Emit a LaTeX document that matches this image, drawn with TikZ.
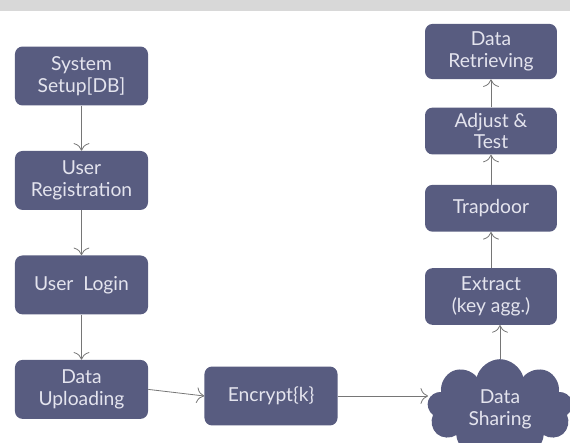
\documentclass[tikz,border=0pt]{standalone}
\usepackage{fontspec}
\setmainfont{Lato}
\usetikzlibrary{positioning,arrows.meta,shapes.symbols}
\definecolor{boxblue}{RGB}{88,92,128}
\definecolor{boxtext}{RGB}{228,228,238}
\definecolor{linegray}{RGB}{118,118,118}
\definecolor{stripgray}{RGB}{216,216,216}

\begin{document}
\begin{tikzpicture}[
    x=0.02646cm, y=-0.02646cm,
    box/.style={rectangle, rounded corners=0.2cm, fill=boxblue, text=boxtext, minimum width=3.52cm, minimum height=1.56cm, align=center, font=\fontsize{14.5}{16.5}\selectfont, inner sep=2pt},
    arrow/.style={-{To[length=2mm]}, linegray, semithick},
]
\useasboundingbox (0,0) rectangle (570,443);
\fill[stripgray] (0,0) rectangle (570,11);

% Left column, top to bottom
\node[box] (setup) at (81.5,76) {System\\Setup[DB]};
\node[box, below=1.19cm of setup] (register) {User\\Registration};
\node[box, below=1.19cm of register] (login) {User~~Login};
\node[box, below=1.19cm of login] (upload) {Data\\Uploading};

% Bottom row
\node[box] (encrypt) at (271,396) {Encrypt\{k\}};
\node[cloud, cloud puffs=9, aspect=2, fill=boxblue, text=boxtext, minimum width=3.75cm, minimum height=2cm, align=center, font=\fontsize{14.5}{16.5}\selectfont] (share) at (500,409) {Data\\Sharing};

% Right column, bottom to top
\node[box, minimum width=3.49cm, minimum height=1.5cm] (extract) at (491,296.5) {Extract\\(key agg.)};
\node[box, minimum width=3.49cm, minimum height=1.24cm, above=0.95cm of extract] (trapdoor) {Trapdoor};
\node[box, minimum width=3.49cm, minimum height=1.24cm, above=0.79cm of trapdoor] (adjust) {Adjust \&\\Test};
\node[box, minimum width=3.49cm, minimum height=1.46cm, above=0.74cm of adjust] (retrieve) {Data\\Retrieving};

\draw[arrow] (setup) -- (register);
\draw[arrow] (register) -- (login);
\draw[arrow] (login) -- (upload);
\draw[arrow] (upload.east) -- (encrypt.west);
\draw[arrow] (encrypt.east) -- (encrypt.east -| share.west);
\draw[arrow] (share.north) -- (share.north |- extract.south);
\draw[arrow] (extract) -- (trapdoor);
\draw[arrow] (trapdoor) -- (adjust);
\draw[arrow] (adjust) -- (retrieve);

\end{tikzpicture}
\end{document}
